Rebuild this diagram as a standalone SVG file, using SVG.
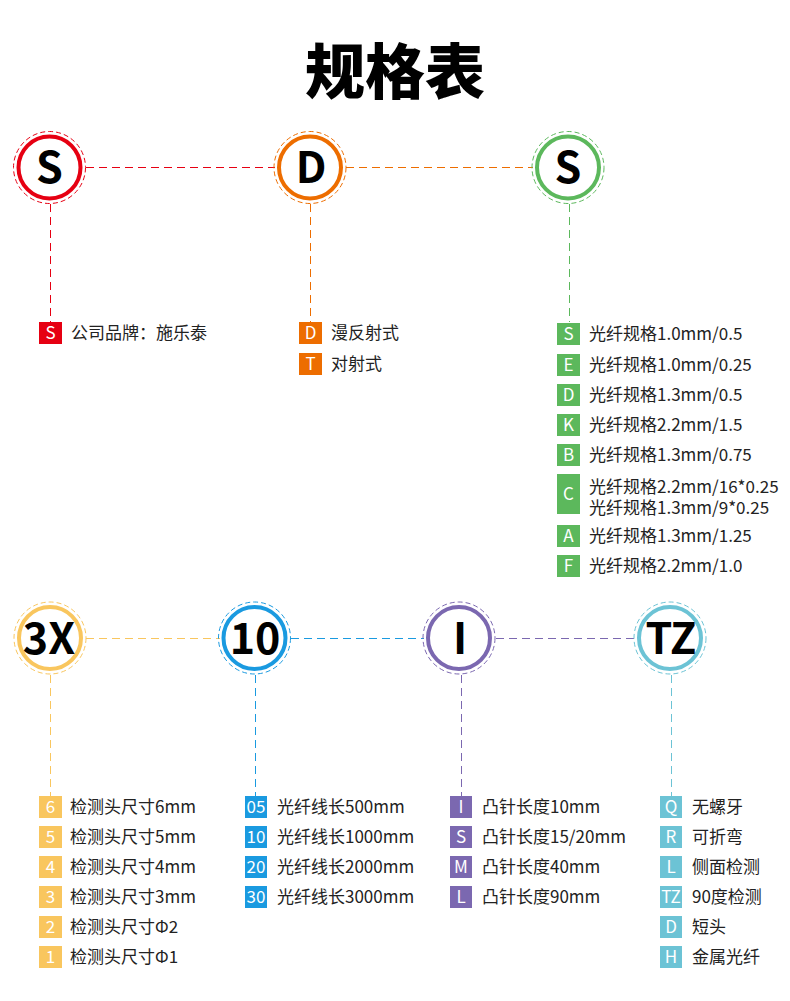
<svg xmlns="http://www.w3.org/2000/svg" width="790" height="1001" viewBox="0 0 790 1001">
<style>
.t{font-family:"Noto Sans CJK SC","Noto Sans",sans-serif;font-size:17px;fill:#222}
.bt{font-family:"Noto Sans CJK SC","Noto Sans",sans-serif;font-size:17px;fill:#fff;text-anchor:middle}
.ring{fill:#fff;stroke-width:4}
.dr{fill:none;stroke-width:1;stroke-dasharray:5 3}
.big{font-family:"Noto Sans CJK SC","Noto Sans",sans-serif;font-weight:700;font-size:43px;fill:#000;text-anchor:middle}
.ln{fill:none;stroke-width:1;stroke-dasharray:8 5}
</style>
<rect width="790" height="1001" fill="#fff"/>
<text x="395" y="94" font-family="'Noto Sans CJK SC',sans-serif" font-weight="900" font-size="60" text-anchor="middle" fill="#000">规格表</text>

<g id="connectors">
<line class="ln" stroke="#e60012" x1="86" y1="167.5" x2="275" y2="167.5"/>
<line class="ln" stroke="#ed6d00" x1="346" y1="167.5" x2="533" y2="167.5"/>
<line class="ln" stroke="#e60012" x1="50.5" y1="204" x2="50.5" y2="322"/>
<line class="ln" stroke="#ed6d00" x1="310.5" y1="204" x2="310.5" y2="322"/>
<line class="ln" stroke="#5cb85c" x1="569.5" y1="204" x2="569.5" y2="322"/>
<line class="ln" stroke="#f9c65e" x1="86" y1="638.5" x2="220" y2="638.5"/>
<line class="ln" stroke="#1a9ae0" x1="291" y1="638.5" x2="424" y2="638.5"/>
<line class="ln" stroke="#7b68b0" x1="496" y1="638.5" x2="636" y2="638.5"/>
<line class="ln" stroke="#f9c65e" x1="50.5" y1="675" x2="50.5" y2="796"/>
<line class="ln" stroke="#1a9ae0" x1="255.5" y1="675" x2="255.5" y2="796"/>
<line class="ln" stroke="#7b68b0" x1="461.5" y1="675" x2="461.5" y2="796"/>
<line class="ln" stroke="#6cc3d5" x1="671.5" y1="675" x2="671.5" y2="796"/>
</g>

<g id="node-S1">
<circle class="dr" stroke="#e60012" cx="49.5" cy="167.5" r="36"/>
<circle class="ring" stroke="#e60012" cx="49.5" cy="167.5" r="31"/>
<text class="big" x="49.5" y="183">S</text>
</g>
<g id="node-D">
<circle class="dr" stroke="#ed6d00" cx="310" cy="167.5" r="36"/>
<circle class="ring" stroke="#ed6d00" cx="310" cy="167.5" r="31"/>
<text class="big" x="311" y="183">D</text>
</g>
<g id="node-S2">
<circle class="dr" stroke="#5cb85c" cx="568" cy="167.5" r="36"/>
<circle class="ring" stroke="#5cb85c" cx="568" cy="167.5" r="31"/>
<text class="big" x="568" y="183">S</text>
</g>
<g id="node-3X">
<circle class="dr" stroke="#f9c65e" cx="50" cy="638" r="36"/>
<circle class="ring" stroke="#f9c65e" cx="50" cy="638" r="31"/>
<text class="big" x="49" y="654">3X</text>
</g>
<g id="node-10">
<circle class="dr" stroke="#1a9ae0" cx="254.5" cy="638" r="36"/>
<circle class="ring" stroke="#1a9ae0" cx="254.5" cy="638" r="31"/>
<text class="big" x="255" y="654">10</text>
</g>
<g id="node-I">
<circle class="dr" stroke="#7b68b0" cx="459" cy="638" r="36"/>
<circle class="ring" stroke="#7b68b0" cx="459" cy="638" r="31"/>
<text class="big" x="460" y="654">I</text>
</g>
<g id="node-TZ">
<circle class="dr" stroke="#6cc3d5" cx="670" cy="638" r="36"/>
<circle class="ring" stroke="#6cc3d5" cx="670" cy="638" r="31"/>
<text class="big" x="671" y="654">TZ</text>
</g>

<g id="list-S1">
<rect x="39" y="322" width="23" height="22" fill="#e60012"/><text class="bt" x="50.5" y="339">S</text>
<text class="t" x="71" y="339">公司品牌：施乐泰</text>
</g>
<g id="list-D">
<rect x="299" y="322" width="23" height="22" fill="#ed6d00"/><text class="bt" x="310.5" y="339">D</text>
<text class="t" x="331" y="339">漫反射式</text>
<rect x="299" y="353" width="23" height="22" fill="#ed6d00"/><text class="bt" x="310.5" y="370">T</text>
<text class="t" x="331" y="370">对射式</text>
</g>
<g id="list-S2" fill="#5cb85c">
<rect x="557" y="323" width="23" height="22"/><text class="bt" x="568.5" y="340">S</text><text class="t" x="589" y="340">光纤规格1.0mm/0.5</text>
<rect x="557" y="354" width="23" height="22"/><text class="bt" x="568.5" y="371">E</text><text class="t" x="589" y="371">光纤规格1.0mm/0.25</text>
<rect x="557" y="384" width="23" height="22"/><text class="bt" x="568.5" y="401">D</text><text class="t" x="589" y="401">光纤规格1.3mm/0.5</text>
<rect x="557" y="414" width="23" height="22"/><text class="bt" x="568.5" y="431">K</text><text class="t" x="589" y="431">光纤规格2.2mm/1.5</text>
<rect x="557" y="444" width="23" height="22"/><text class="bt" x="568.5" y="461">B</text><text class="t" x="589" y="461">光纤规格1.3mm/0.75</text>
<rect x="557" y="474" width="23" height="40"/><text class="bt" x="568.5" y="500">C</text><text class="t" x="589" y="493">光纤规格2.2mm/16*0.25</text><text class="t" x="589" y="514">光纤规格1.3mm/9*0.25</text>
<rect x="557" y="525" width="23" height="22"/><text class="bt" x="568.5" y="542">A</text><text class="t" x="589" y="542">光纤规格1.3mm/1.25</text>
<rect x="557" y="555" width="23" height="22"/><text class="bt" x="568.5" y="572">F</text><text class="t" x="589" y="572">光纤规格2.2mm/1.0</text>
</g>
<g id="list-3X" fill="#f9c65e">
<rect x="39" y="796" width="23" height="22"/><text class="bt" x="50.5" y="813">6</text><text class="t" x="70" y="813">检测头尺寸6mm</text>
<rect x="39" y="826" width="23" height="22"/><text class="bt" x="50.5" y="843">5</text><text class="t" x="70" y="843">检测头尺寸5mm</text>
<rect x="39" y="856" width="23" height="22"/><text class="bt" x="50.5" y="873">4</text><text class="t" x="70" y="873">检测头尺寸4mm</text>
<rect x="39" y="886" width="23" height="22"/><text class="bt" x="50.5" y="903">3</text><text class="t" x="70" y="903">检测头尺寸3mm</text>
<rect x="39" y="916" width="23" height="22"/><text class="bt" x="50.5" y="933">2</text><text class="t" x="70" y="933">检测头尺寸Φ2</text>
<rect x="39" y="946" width="23" height="22"/><text class="bt" x="50.5" y="963">1</text><text class="t" x="70" y="963">检测头尺寸Φ1</text>
</g>
<g id="list-10" fill="#1a9ae0">
<rect x="245" y="796" width="22" height="22"/><text class="bt" x="256" y="813">05</text><text class="t" x="277" y="813">光纤线长500mm</text>
<rect x="245" y="826" width="22" height="22"/><text class="bt" x="256" y="843">10</text><text class="t" x="277" y="843">光纤线长1000mm</text>
<rect x="245" y="856" width="22" height="22"/><text class="bt" x="256" y="873">20</text><text class="t" x="277" y="873">光纤线长2000mm</text>
<rect x="245" y="886" width="22" height="22"/><text class="bt" x="256" y="903">30</text><text class="t" x="277" y="903">光纤线长3000mm</text>
</g>
<g id="list-I" fill="#7b68b0">
<rect x="450" y="796" width="22" height="22"/><text class="bt" x="461" y="813">I</text><text class="t" x="482" y="813">凸针长度10mm</text>
<rect x="450" y="826" width="22" height="22"/><text class="bt" x="461" y="843">S</text><text class="t" x="482" y="843">凸针长度15/20mm</text>
<rect x="450" y="856" width="22" height="22"/><text class="bt" x="461" y="873">M</text><text class="t" x="482" y="873">凸针长度40mm</text>
<rect x="450" y="886" width="22" height="22"/><text class="bt" x="461" y="903">L</text><text class="t" x="482" y="903">凸针长度90mm</text>
</g>
<g id="list-TZ" fill="#6cc3d5">
<rect x="660" y="796" width="22" height="22"/><text class="bt" x="671" y="813">Q</text><text class="t" x="692" y="813">无螺牙</text>
<rect x="660" y="826" width="22" height="22"/><text class="bt" x="671" y="843">R</text><text class="t" x="692" y="843">可折弯</text>
<rect x="660" y="856" width="22" height="22"/><text class="bt" x="671" y="873">L</text><text class="t" x="692" y="873">侧面检测</text>
<rect x="660" y="886" width="22" height="22"/><text class="bt" x="671" y="903">TZ</text><text class="t" x="692" y="903">90度检测</text>
<rect x="660" y="916" width="22" height="22"/><text class="bt" x="671" y="933">D</text><text class="t" x="692" y="933">短头</text>
<rect x="660" y="946" width="22" height="22"/><text class="bt" x="671" y="963">H</text><text class="t" x="692" y="963">金属光纤</text>
</g>
</svg>
